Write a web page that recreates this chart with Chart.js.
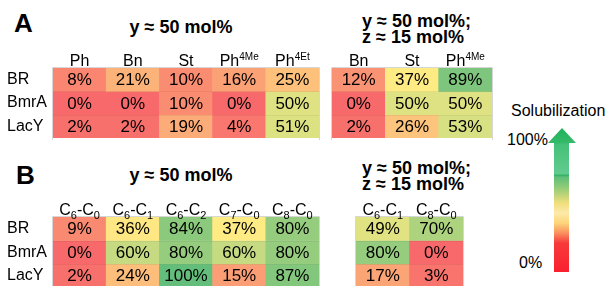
<!DOCTYPE html>
<html>
<head>
<meta charset="utf-8">
<script src="https://cdn.jsdelivr.net/npm/chart.js@4.4.0/dist/chart.umd.min.js"></script>
<style>
  body { margin: 0; width: 608px; height: 286px; overflow: hidden; background: #fff; position: relative;
         font-family: "Liberation Sans", Arial, sans-serif; color: #000; }
  .abs { position: absolute; white-space: nowrap; }
  canvas { position: absolute; }
  .panel { font-weight: bold; font-size: 26px; line-height: 26px; }
  .ttl { font-weight: bold; font-size: 18px; line-height: 18px; }
  .ttl2 { font-weight: bold; font-size: 18px; line-height: 15.5px; }
  .lbl { font-size: 16px; line-height: 16px; }
  #arrow {
    left: 548px; top: 128px; width: 28px; height: 144px;
    clip-path: polygon(14px 0, 28px 15px, 21px 15px, 21px 144px, 6px 144px, 6px 15px, 0 15px);
    background: linear-gradient(to bottom,
      #1fb25a 0px, #35ba6a 15px, #45c078 16px, #62cb8f 46px, #2fae62 47px, #5dbf78 49px,
      #9fcf78 62px, #f0de7c 75px, #fdeaa8 85px, #fdd57a 95px, #fa9060 105px,
      #f73a3c 115px, #f9202f 144px);
  }
</style>
</head>
<body>
<div class="abs panel" style="left:14px; top:10px;">A</div>
<div class="abs ttl" style="left:81px; top:18px; width:200px; text-align:center;">y ≈ 50 mol%</div>
<div class="abs ttl2" style="left:362px; top:14px;">y ≈ 50 mol%;<br>z ≈ 15 mol%</div>

<div class="abs panel" style="left:16px; top:162px;">B</div>
<div class="abs ttl" style="left:81px; top:166px; width:200px; text-align:center;">y ≈ 50 mol%</div>
<div class="abs ttl2" style="left:362px; top:161px;">y ≈ 50 mol%;<br>z ≈ 15 mol%</div>

<div class="abs lbl" style="left:511px; top:103px;">Solubilization</div>
<div class="abs lbl" style="left:507px; top:132px;">100%</div>
<div class="abs lbl" style="left:519px; top:255px;">0%</div>
<div class="abs" id="arrow"></div>

<canvas id="tA1" width="322" height="96" style="left:0; top:44px;"></canvas>
<canvas id="tA2" width="168" height="96" style="left:328px; top:44px;"></canvas>
<canvas id="tB1" width="322" height="96" style="left:0; top:192px;"></canvas>
<canvas id="tB2" width="115" height="96" style="left:352px; top:192px;"></canvas>

<script>
const FONT = '"Liberation Sans", Arial, sans-serif';

const rowLabels = ['BR', 'BmrA', 'LacY'];

// column headers: ^ = superscript, _ = subscript
const colsA1 = ['Ph', 'Bn', 'St', 'Ph^4Me', 'Ph^4Et'];
const colsA2 = ['Bn', 'St', 'Ph^4Me'];
const colsB1 = ['C_6-C_0', 'C_6-C_1', 'C_6-C_2', 'C_7-C_0', 'C_8-C_0'];
const colsB2 = ['C_6-C_1', 'C_8-C_0'];

// solubilization in %, one inner array per row (BR, BmrA, LacY)
const valsA1 = [[8, 21, 10, 16, 25], [0, 0, 10, 0, 50], [2, 2, 19, 4, 51]];
const valsA2 = [[12, 37, 89], [0, 50, 50], [2, 26, 53]];
const valsB1 = [[9, 36, 84, 37, 80], [0, 60, 80, 60, 80], [2, 24, 100, 15, 87]];
const valsB2 = [[49, 70], [80, 0], [17, 3]];

// 3-colour scale red -> yellow -> green
const LO = [248, 105, 107], MID = [255, 235, 132], HI = [99, 190, 123];
const MID_AT = 37;
function heat(v) {
  let a, b, t;
  if (v <= MID_AT) { a = LO; b = MID; t = v / MID_AT; }
  else { a = MID; b = HI; t = (v - MID_AT) / (100 - MID_AT); }
  return 'rgb(' + a.map((c, i) => Math.round(c + (b[i] - c) * t)).join(',') + ')';
}

function drawRich(c, label, cx, baseY) {
  const parts = label.split(/([\^_][0-9A-Za-z]+)/).filter(p => p);
  const big = `16px ${FONT}`;
  const items = parts.map(p => {
    if (p[0] === '^') return { t: p.slice(1), f: `10px ${FONT}`, dy: -6 };
    if (p[0] === '_') return { t: p.slice(1), f: `11px ${FONT}`, dy: 3.5 };
    return { t: p, f: big, dy: 0 };
  });
  let w = 0;
  items.forEach(it => { c.font = it.f; it.w = c.measureText(it.t).width; w += it.w; });
  let x = cx - w / 2;
  c.textAlign = 'left';
  c.textBaseline = 'alphabetic';
  items.forEach(it => { c.font = it.f; c.fillText(it.t, x, baseY + it.dy); x += it.w; });
}

const cellText = {
  id: 'cellText',
  afterDatasetsDraw(chart) {
    const c = chart.ctx;
    const a = chart.chartArea;
    c.save();
    // faint sheet grid lines
    c.lineWidth = 1;
    c.strokeStyle = 'rgba(0,0,0,0.05)';
    const ys = chart.scales.y;
    [1, 2].forEach(k => {
      const py = Math.round(ys.getPixelForValue(k)) + 0.5;
      c.beginPath(); c.moveTo(a.left, py); c.lineTo(a.right, py); c.stroke();
    });
    c.strokeStyle = '#d6d6d6';
    c.beginPath();
    c.moveTo(a.left - 0.5, a.bottom + 2); c.lineTo(a.left - 0.5, a.top - 0.5);
    c.lineTo(a.right + 0.5, a.top - 0.5); c.lineTo(a.right + 0.5, a.bottom + 2);
    c.stroke();

    c.fillStyle = '#000';
    c.font = `17px ${FONT}`;
    c.textAlign = 'center';
    c.textBaseline = 'middle';
    chart.data.datasets.forEach((ds, i) => {
      chart.getDatasetMeta(i).data.forEach((bar, j) => {
        c.fillText(ds.data[j].v + '%', bar.x, (bar.y + bar.base) / 2 + 1);
      });
    });
    const xs = chart.scales.x;
    chart.data.labels.forEach((lab, j) => drawRich(c, lab, xs.getPixelForValue(j), a.top - 2));
    c.restore();
  }
};

function makeTable(id, cols, vals, opts) {
  return new Chart(document.getElementById(id), {
    type: 'bar',
    data: {
      labels: cols,
      datasets: rowLabels.map((r, i) => ({
        label: r,
        data: vals[i].map((v, j) => ({ x: cols[j], y: 1, v })),
        backgroundColor: vals[i].map(heat),
        borderWidth: 0,
        barPercentage: 1,
        categoryPercentage: 1
      }))
    },
    options: {
      responsive: false,
      animation: false,
      events: [],
      layout: { padding: opts.pad },
      plugins: { legend: { display: false }, tooltip: { enabled: false } },
      scales: {
        x: { stacked: true, display: false },
        y: { stacked: true, display: false, min: 0, max: 3, reverse: true },
        rows: {
          type: 'category',
          labels: rowLabels,
          position: 'left',
          offset: true,
          display: opts.showRows,
          grid: { display: false },
          border: { display: false },
          ticks: { crossAlign: 'far', padding: 0, color: '#000', font: { family: FONT, size: 16 } },
          afterFit: (s) => { s.width = opts.rowW; s.paddingTop = 0; s.paddingBottom = 0; }
        }
      }
    },
    plugins: [cellText]
  });
}

makeTable('tA1', colsA1, valsA1, { showRows: true, rowW: 46, pad: { left: 7, right: 3, top: 24, bottom: 2 } });
makeTable('tA2', colsA2, valsA2, { showRows: false, rowW: 0, pad: { left: 4, right: 4, top: 24, bottom: 2 } });
makeTable('tB1', colsB1, valsB1, { showRows: true, rowW: 46, pad: { left: 7, right: 3, top: 25, bottom: 0.5 } });
makeTable('tB2', colsB2, valsB2, { showRows: false, rowW: 0, pad: { left: 4, right: 4, top: 25, bottom: 0.5 } });
</script>
</body>
</html>
